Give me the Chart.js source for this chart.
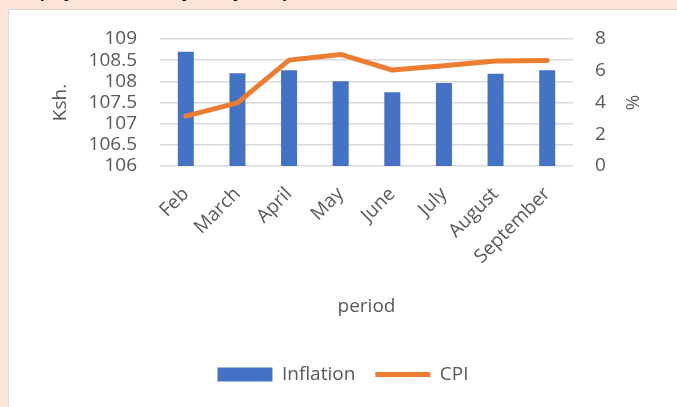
<!DOCTYPE html>
<html>
<head>
<meta charset="utf-8">
<script src="https://cdn.jsdelivr.net/npm/chart.js@4"></script>
<style>
  body { margin: 0; background: #FCE4D6; width: 677px; height: 407px; overflow: hidden; position: relative; }
  #cap { position: absolute; left: 40px; top: -18px; font: bold 15px 'Open Sans', sans-serif; color: #000; white-space: nowrap; }
  #panel { position: absolute; left: 8px; top: 9px; width: 680px; height: 410px; background: #fff; border-left: 1px solid #D9D9D9; border-top: 1px solid #D9D9D9; }
  #wrap { position: absolute; left: 9px; top: 10px; width: 668px; height: 397px; }
</style>
</head>
<body>
<div id="cap">projected inflation January to September 2023</div>
<div id="panel"></div>
<div id="wrap"><canvas id="chart"></canvas></div>
<script>
const months = ['Feb', 'March', 'April', 'May', 'June', 'July', 'August', 'September'];
const inflation = [108.70, 108.19, 108.26, 108.00, 107.74, 107.96, 108.18, 108.26];
const cpi = [3.14, 3.98, 6.67, 7.03, 6.04, 6.31, 6.61, 6.65];

Chart.defaults.font.family = "'Open Sans', sans-serif";
Chart.defaults.font.size = 19;
Chart.defaults.color = '#595959';

const grey = '#D9D9D9';
const clear = 'rgba(0,0,0,0)';

new Chart(document.getElementById('chart'), {
    type: 'bar',
    data: {
        labels: months,
        datasets: [{
            label: 'Inflation',
            data: inflation,
            backgroundColor: '#4472C4',
            borderWidth: 0,
            yAxisID: 'y',
            order: 2,
            pointStyle: 'rect',
            categoryPercentage: 1,
            barPercentage: 0.31
        }, {
            type: 'line',
            label: 'CPI',
            data: cpi,
            borderColor: '#ED7D31',
            backgroundColor: '#ED7D31',
            borderWidth: 5,
            borderCapStyle: 'round',
            borderJoinStyle: 'round',
            pointRadius: 0,
            pointStyle: 'line',
            tension: 0,
            yAxisID: 'y1',
            order: 1
        }]
    },
    options: {
        responsive: true,
        maintainAspectRatio: false,
        animation: false,
        layout: { padding: { top: 29, left: 0, right: 0, bottom: 13 } },
        plugins: {
            legend: {
                position: 'bottom',
                labels: {
                    usePointStyle: true,
                    pointStyleWidth: 55,
                    boxHeight: 14,
                    padding: 20,
                    sort: (a, b) => a.datasetIndex - b.datasetIndex
                }
            },
            tooltip: { enabled: false }
        },
        scales: {
            x: {
                grid: { display: false },
                border: { display: false },
                ticks: { maxRotation: 45, minRotation: 45, padding: 9 },
                title: { display: true, text: 'period', padding: { top: 0, bottom: 27 } },
                afterFit: (s) => { s.height = 179; }
            },
            y: {
                position: 'left',
                min: 106,
                max: 109,
                // tick marks kept invisible, their length gives the label gap
                ticks: { stepSize: 0.5, padding: 0, autoSkip: false, callback: (v) => String(v) },
                grid: { color: grey, lineWidth: 1.5, drawTicks: true, tickLength: 23, tickColor: clear },
                border: { display: false },
                title: { display: true, text: 'Ksh.', padding: { top: 40, bottom: 0 } },
                afterFit: (s) => { s.width = 151; }
            },
            y1: {
                position: 'right',
                min: 0,
                max: 8,
                ticks: { stepSize: 2, padding: 0, autoSkip: false },
                grid: { display: true, drawOnChartArea: false, drawTicks: true, tickLength: 22, tickColor: clear },
                border: { display: false },
                title: { display: true, text: '%', padding: { top: 34, bottom: 0 } },
                afterFit: (s) => { s.width = 104; }
            }
        }
    }
});
</script>
</body>
</html>
